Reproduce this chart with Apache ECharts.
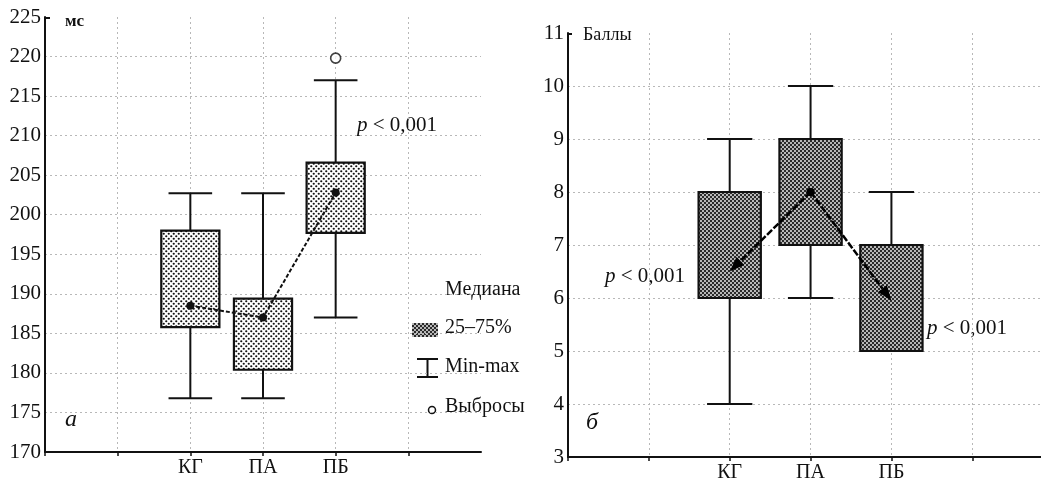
<!DOCTYPE html>
<html>
<head>
<meta charset="utf-8">
<script src="https://cdn.jsdelivr.net/npm/echarts@6/dist/echarts.min.js"></script>
<style>
html,body{margin:0;padding:0;background:#fff;}
#c{width:1041px;height:484px;}
</style>
</head>
<body>
<div id="c"></div>
<script>
// ---- data ----
var categories = ['КГ', 'ПА', 'ПБ'];
var catPositions = [2, 3, 4];

// left chart (мс)
var leftMin    = [176.8, 176.8, 187.0];
var leftQ1     = [185.8, 180.4, 197.7];
var leftMedian = [188.5, 187.0, 202.8];
var leftQ3     = [198.0, 189.4, 206.6];
var leftMax    = [202.7, 202.7, 217.0];
var leftOutliers = [[4, 219.8]];
var leftTicks = [170, 175, 180, 185, 190, 195, 200, 205, 210, 215, 220, 225];

// right chart (Баллы)
var rightMin    = [4, 6, 5];
var rightQ1     = [6, 7, 5];
var rightMedian = [6.5, 8, 5.95];
var rightQ3     = [8, 9, 7];
var rightMax    = [9, 10, 8];
var rightTicks = [3, 4, 5, 6, 7, 8, 9, 10, 11];

// ---- patterns ----
function dotPattern() {
  var c = document.createElement('canvas');
  c.width = 5; c.height = 5;
  var g = c.getContext('2d');
  g.fillStyle = '#fff'; g.fillRect(0, 0, 5, 5);
  g.fillStyle = '#111';
  [[1.25, 1.25], [3.75, 3.75]].forEach(function (p) {
    g.beginPath(); g.arc(p[0], p[1], 1.1, 0, Math.PI * 2); g.fill();
  });
  return c;
}
function hatchPattern() {
  var c = document.createElement('canvas');
  c.width = 4; c.height = 4;
  var g = c.getContext('2d');
  g.fillStyle = '#2b2b2b'; g.fillRect(0, 0, 4, 4);
  g.fillStyle = '#f4f4f4';
  [[1, 1], [3, 3]].forEach(function (p) {
    g.beginPath(); g.arc(p[0], p[1], 0.95, 0, Math.PI * 2); g.fill();
  });
  return c;
}
var dotFill = { image: dotPattern(), repeat: 'repeat' };
var hatchFill = { image: hatchPattern(), repeat: 'repeat' };

function boxData(mn, q1, md, q3, mx) {
  return catPositions.map(function (x, i) { return [x, mn[i], q1[i], md[i], q3[i], mx[i]]; });
}

function makeBoxRender(fill, boxFrac, capFrac) {
  return function (params, api) {
    var x = api.value(0);
    var pMin = api.coord([x, api.value(1)]);
    var pQ1 = api.coord([x, api.value(2)]);
    var pQ3 = api.coord([x, api.value(4)]);
    var pMax = api.coord([x, api.value(5)]);
    var band = api.size([1, 0])[0];
    var bw = band * boxFrac, cw = band * capFrac;
    var cx = pQ1[0];
    var ls = { stroke: '#111', lineWidth: 2 };
    var ch = [];
    if (Math.abs(pMax[1] - pQ3[1]) > 0.5) {
      ch.push({ type: 'line', shape: { x1: cx, y1: pMax[1], x2: cx, y2: pQ3[1] }, style: ls });
      ch.push({ type: 'line', shape: { x1: cx - cw / 2, y1: pMax[1], x2: cx + cw / 2, y2: pMax[1] }, style: ls });
    }
    if (Math.abs(pMin[1] - pQ1[1]) > 0.5) {
      ch.push({ type: 'line', shape: { x1: cx, y1: pQ1[1], x2: cx, y2: pMin[1] }, style: ls });
      ch.push({ type: 'line', shape: { x1: cx - cw / 2, y1: pMin[1], x2: cx + cw / 2, y2: pMin[1] }, style: ls });
    }
    ch.push({ type: 'rect', shape: { x: cx - bw / 2, y: pQ3[1], width: bw, height: pQ1[1] - pQ3[1] },
      style: { fill: fill, stroke: '#111', lineWidth: 2.2 } });
    return { type: 'group', children: ch };
  };
}

function arrowRender(params, api) {
  var a = api.coord([api.value(0), api.value(1)]);
  var b = api.coord([api.value(2), api.value(3)]);
  var dx = b[0] - a[0], dy = b[1] - a[1];
  var L = Math.sqrt(dx * dx + dy * dy);
  var ux = dx / L, uy = dy / L;
  var hl = 15, hw = 5.5;
  var bx = b[0] - ux * hl, by = b[1] - uy * hl;
  return { type: 'group', children: [
    { type: 'line', shape: { x1: a[0], y1: a[1], x2: bx, y2: by },
      style: { stroke: '#000', lineWidth: 2.5, lineDash: [7, 2] } },
    { type: 'polygon', shape: { points: [[b[0], b[1]], [bx - uy * hw, by + ux * hw], [bx + uy * hw, by - ux * hw]] },
      style: { fill: '#000' } },
    { type: 'circle', shape: { cx: a[0], cy: a[1], r: 4 }, style: { fill: '#000' } }
  ]};
}

var serif = '"Liberation Serif", "DejaVu Serif", serif';
var gridLine = { show: true, showMinLine: false, showMaxLine: false,
  lineStyle: { color: '#b8b8b8', width: 1, type: [2, 3] } };

function xAxisCfg(gi, maxX) {
  return {
    type: 'value', gridIndex: gi, min: 0, max: maxX, interval: 1,
    axisLine: { show: true, onZero: false, lineStyle: { color: '#111', width: 2 } },
    axisTick: { show: true, length: 4, lineStyle: { color: '#111', width: 1.5 } },
    axisLabel: { color: '#111', fontFamily: serif, fontSize: 20, margin: 6, showMaxLabel: false,
      formatter: function (v) { var i = catPositions.indexOf(v); return i >= 0 ? categories[i] : ''; } },
    splitLine: gridLine
  };
}
function yAxisCfg(gi, ticks) {
  return {
    type: 'value', gridIndex: gi, min: ticks[0], max: ticks[ticks.length - 1],
    interval: ticks[1] - ticks[0],
    axisLine: { show: true, lineStyle: { color: '#111', width: 2 } },
    axisTick: { show: false },
    axisLabel: { color: '#111', fontFamily: serif, fontSize: 21, margin: 4 },
    splitLine: gridLine
  };
}

var chart = echarts.init(document.getElementById('c'), null, { renderer: 'canvas' });

var pText = function (x, y) {
  return { type: 'text', left: x, top: y, style: { text: '{i|p} < 0,001', fill: '#111',
    font: '21px ' + serif, rich: { i: { fontStyle: 'italic', fontSize: 21, fontFamily: serif, fill: '#111' } } } };
};
var txt = function (x, y, s, size, extra) {
  var st = { text: s, fill: '#111', font: (extra || '') + ' ' + size + 'px ' + serif };
  return { type: 'text', left: x, top: y, style: st };
};

chart.setOption({
  animation: false,
  backgroundColor: '#fff',
  grid: [
    { left: 45, top: 17, width: 436, height: 435 },
    { left: 568, top: 33, width: 473, height: 424 }
  ],
  xAxis: [xAxisCfg(0, 6), xAxisCfg(1, 5.85)],
  yAxis: [yAxisCfg(0, leftTicks), yAxisCfg(1, rightTicks)],
  series: [
    { type: 'custom', xAxisIndex: 0, yAxisIndex: 0,
      renderItem: makeBoxRender(dotFill, 0.8, 0.6),
      data: boxData(leftMin, leftQ1, leftMedian, leftQ3, leftMax), z: 2 },
    { type: 'line', xAxisIndex: 0, yAxisIndex: 0,
      data: catPositions.map(function (x, i) { return [x, leftMedian[i]]; }),
      symbol: 'circle', symbolSize: 8, itemStyle: { color: '#111' },
      lineStyle: { color: '#111', width: 2, type: [4, 2] }, z: 3 },
    { type: 'scatter', xAxisIndex: 0, yAxisIndex: 0, data: leftOutliers,
      symbol: 'circle', symbolSize: 10, itemStyle: { color: '#fff', borderColor: '#111', borderWidth: 1.6 }, z: 3 },
    { type: 'custom', xAxisIndex: 1, yAxisIndex: 1,
      renderItem: makeBoxRender(hatchFill, 0.77, 0.56),
      data: boxData(rightMin, rightQ1, rightMedian, rightQ3, rightMax), z: 2 },
    { type: 'custom', xAxisIndex: 1, yAxisIndex: 1, renderItem: arrowRender,
      data: [[catPositions[1], rightMedian[1], catPositions[0], rightMedian[0]],
             [catPositions[1], rightMedian[1], catPositions[2], rightMedian[2]]], z: 3 }
  ],
  graphic: [
    { type: 'line', shape: { x1: 45, y1: 18, x2: 50, y2: 18 }, style: { stroke: '#111', lineWidth: 2 } },
    { type: 'line', shape: { x1: 568, y1: 34, x2: 572, y2: 34 }, style: { stroke: '#111', lineWidth: 2 } },
    txt(65, 13, 'мс', 17, 'bold'),
    txt(583, 26, 'Баллы', 18),
    txt(65, 408, 'а', 24, 'italic'),
    txt(586, 411, 'б', 24, 'italic'),
    pText(357, 115),
    pText(605, 266),
    pText(927, 318),
    txt(445, 280, 'Медиана', 20),
    { type: 'rect', left: 412, top: 323, shape: { width: 26, height: 14 }, style: { fill: hatchFill } },
    txt(445, 318, '25–75%', 20),
    { type: 'line', shape: { x1: 417, y1: 359, x2: 438, y2: 359 }, style: { stroke: '#111', lineWidth: 2 } },
    { type: 'line', shape: { x1: 417, y1: 377, x2: 438, y2: 377 }, style: { stroke: '#111', lineWidth: 2 } },
    { type: 'line', shape: { x1: 427.5, y1: 359, x2: 427.5, y2: 377 }, style: { stroke: '#111', lineWidth: 2 } },
    txt(445, 357, 'Min-max', 20),
    { type: 'circle', shape: { cx: 432, cy: 410, r: 3.5 }, style: { fill: '#fff', stroke: '#111', lineWidth: 1.5 } },
    txt(445, 397, 'Выбросы', 20)
  ]
});
</script>
</body>
</html>
